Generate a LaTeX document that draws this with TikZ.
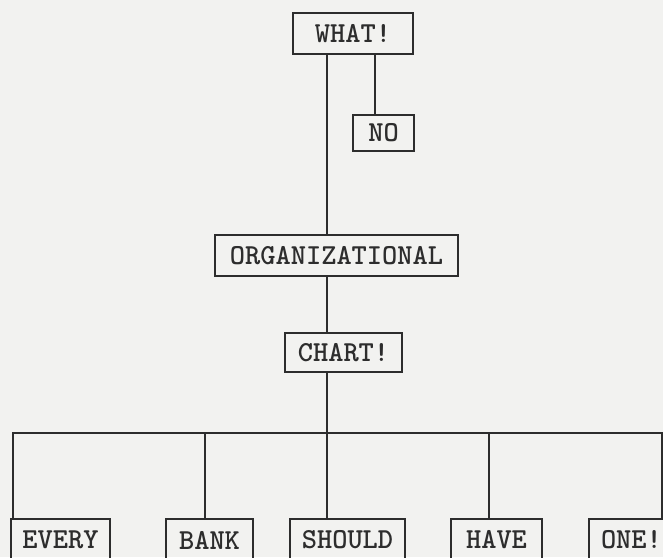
\documentclass[tikz,border=0pt]{standalone}
\begin{document}
\begin{tikzpicture}[x=1pt,y=-1pt,
  box/.style={draw=ink, line width=1.7pt, inner sep=0pt, text=ink,
    font=\fontsize{29}{30}\selectfont\ttfamily\bfseries},
  conn/.style={draw=ink, line width=1.6pt}]
\definecolor{ink}{RGB}{45,45,45}
\definecolor{paper}{RGB}{242,242,240}
\clip (0,0) rectangle (663,557);
\fill[paper] (0,0) rectangle (663,557);
\useasboundingbox (0,0) rectangle (663,557);
% boxes
\node[box, minimum width=120pt, minimum height=41pt] (what) at (353,33.5) {WHAT!};
\node[box, minimum width=61pt, minimum height=36pt] (no) at (383.5,133) {NO};
\node[box, minimum width=243pt, minimum height=41pt] (org) at (336.5,255.5) {ORGANIZATIONAL};
\node[box, minimum width=117pt, minimum height=39pt] (chart) at (343.5,352.5) {CHART!};
\node[box, minimum width=99pt, minimum height=42pt] (every) at (60.5,540) {EVERY};
\node[box, minimum width=87pt, minimum height=42pt] (bank) at (209.5,540) {BANK};
\node[box, minimum width=115pt, minimum height=42pt] (should) at (347.5,540) {SHOULD};
\node[box, minimum width=91pt, minimum height=42pt] (have) at (496.5,540) {HAVE};
\node[box, minimum width=80pt, minimum height=42pt, text width=74pt, align=left] (one) at (629,540) {\hspace*{9pt}ONE!};
% connector points
\coordinate (mainx) at (327,0);
\coordinate (nox) at (375,0);
\coordinate (busL) at (13,433);
\coordinate (busR) at (662,433);
\coordinate (busBank) at (205,433);
\coordinate (busShould) at (327,433);
\coordinate (busHave) at (489,433);
% connectors
\draw[conn] (what.south -| mainx) -- (org.north -| mainx);
\draw[conn] (what.south -| nox) -- (no.north -| nox);
\draw[conn] (org.south -| mainx) -- (chart.north -| mainx);
\draw[conn] (chart.south -| mainx) -- (busShould);
\draw[conn] (busL |- every.north) -- (busL) -- (busR) -- (busR |- one.north);
\draw[conn] (busBank) -- (busBank |- bank.north);
\draw[conn] (busShould) -- (busShould |- should.north);
\draw[conn] (busHave) -- (busHave |- have.north);
\end{tikzpicture}
\end{document}
